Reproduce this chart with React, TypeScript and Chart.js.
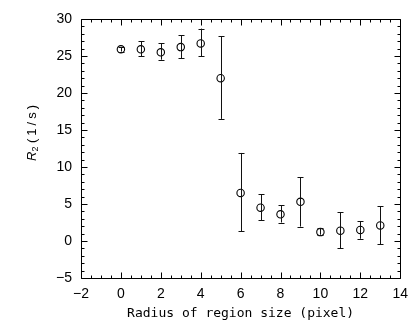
import React, { useEffect, useRef } from "react";
import { Chart, registerables } from "chart.js";

Chart.register(...registerables);

const radius = [0, 1, 2, 3, 4, 5, 6, 7, 8, 9, 10, 11, 12, 13];
const r2Mean = [25.9, 25.9, 25.5, 26.2, 26.7, 22.0, 6.5, 4.5, 3.6, 5.3, 1.2, 1.4, 1.5, 2.1];
const r2Upper = [26.2, 27.0, 26.7, 27.8, 28.7, 27.7, 11.9, 6.3, 4.8, 8.6, 1.75, 3.9, 2.7, 4.7];
const r2Lower = [25.6, 25.0, 24.5, 24.7, 24.95, 16.5, 1.35, 2.8, 2.5, 1.95, 0.85, -1.0, 0.3, -0.45];

const xMin = -2;
const xMax = 14;
const xStep = 2;
const xMinorStep = 0.5;
const yMin = -5;
const yMax = 30;
const yStep = 5;
const yMinorStep = 1;

const xTitle = "Radius of region size (pixel)";
const yTitleMain = "R";
const yTitleSub = "2";
const yTitleRest = " (1/s)";

const minusFmt = (v: number | string) => String(v).replace("-", "\u2212");

const framePlugin = {
  id: "frameTicks",
  afterDatasetsDraw(chart: any) {
    const { ctx, chartArea } = chart;
    const xs = chart.scales.x;
    const ys = chart.scales.y;
    const { left, right, top, bottom } = chartArea;
    ctx.save();
    ctx.strokeStyle = "#000";
    ctx.lineWidth = 1;
    // error bars
    ctx.strokeStyle = "#111";
    for (let i = 0; i < radius.length; i++) {
      const px = Math.round(xs.getPixelForValue(radius[i])) + 0.5;
      const pu = ys.getPixelForValue(r2Upper[i]);
      const pl = ys.getPixelForValue(r2Lower[i]);
      ctx.beginPath();
      ctx.moveTo(px, pu);
      ctx.lineTo(px, pl);
      ctx.moveTo(px - 3, Math.round(pu) + 0.5);
      ctx.lineTo(px + 3, Math.round(pu) + 0.5);
      ctx.moveTo(px - 3, Math.round(pl) + 0.5);
      ctx.lineTo(px + 3, Math.round(pl) + 0.5);
      ctx.stroke();
    }
    ctx.strokeStyle = "#000";
    // frame
    const l = Math.round(left) + 0.5;
    const r = Math.round(right) + 0.5;
    const t = Math.round(top) + 0.5;
    const b = Math.round(bottom) + 0.5;
    ctx.beginPath();
    ctx.rect(l, t, r - l, b - t);
    ctx.stroke();
    ctx.beginPath();
    for (let v = xMin; v <= xMax + 1e-9; v += xMinorStep) {
      const major = Math.abs(v / xStep - Math.round(v / xStep)) < 1e-6;
      const len = major ? 6 : 3;
      const px = Math.round(xs.getPixelForValue(v)) + 0.5;
      ctx.moveTo(px, b);
      ctx.lineTo(px, b - len);
      ctx.moveTo(px, t);
      ctx.lineTo(px, t + len);
    }
    for (let v = yMin; v <= yMax + 1e-9; v += yMinorStep) {
      const major = Math.abs(v / yStep - Math.round(v / yStep)) < 1e-6;
      const len = major ? 6 : 3;
      const py = Math.round(ys.getPixelForValue(v)) + 0.5;
      ctx.moveTo(l, py);
      ctx.lineTo(l + len, py);
      ctx.moveTo(r, py);
      ctx.lineTo(r - len, py);
    }
    ctx.stroke();

    // y title
    ctx.fillStyle = "#000";
    ctx.translate(36, 133);
    ctx.rotate(-Math.PI / 2);
    ctx.textBaseline = "alphabetic";
    ctx.font = "italic 13px 'Liberation Sans'";
    const wR = ctx.measureText(yTitleMain).width;
    ctx.font = "9px 'Liberation Sans'";
    const wS = ctx.measureText(yTitleSub).width;
    ctx.font = "13px 'Liberation Sans'";
    const wRest = ctx.measureText(yTitleRest).width + 3 * 4;
    const total = wR + wS + wRest;
    let cx = -total / 2;
    ctx.textAlign = "left";
    ctx.font = "italic 13px 'Liberation Sans'";
    ctx.fillText(yTitleMain, cx, 0);
    cx += wR;
    ctx.font = "9px 'Liberation Sans'";
    ctx.fillText(yTitleSub, cx, 2);
    cx += wS;
    ctx.font = "13px 'Liberation Sans'";
    for (const ch of yTitleRest) {
      ctx.fillText(ch, cx, 0);
      cx += ctx.measureText(ch).width + (ch === " " ? 0 : 3);
    }
    ctx.restore();
  },
};

export default function App() {
  const ref = useRef<HTMLCanvasElement | null>(null);
  useEffect(() => {
    if (!ref.current) return;
    const chart = new Chart(ref.current, {
      type: "scatter",
      data: {
        datasets: [
          {
            data: radius.map((x, i) => ({ x, y: r2Mean[i] })),
            pointStyle: "circle",
            pointRadius: 3.7,
            borderColor: "#000",
            backgroundColor: "rgba(0,0,0,0)",
            borderWidth: 1.1,
          },
        ],
      },
      options: {
        animation: false,
        responsive: false,
        maintainAspectRatio: false,
        layout: { padding: { top: 19, right: 12, left: 0, bottom: 0 } },
        plugins: { legend: { display: false }, tooltip: { enabled: false } },
        scales: {
          x: {
            type: "linear",
            min: xMin,
            max: xMax,
            grid: { display: false, drawTicks: false },
            border: { display: false },
            ticks: {
              stepSize: xStep,
              color: "#000",
              padding: 8,
              font: { family: "'Liberation Sans', Arial, sans-serif", size: 14 },
              callback: (v: any) => minusFmt(v),
              maxRotation: 0,
            },
            title: {
              display: true,
              text: xTitle,
              color: "#000",
              font: { family: "'DejaVu Sans Mono', monospace", size: 13 },
              padding: { top: 0, bottom: 0 },
            },
            afterFit: (s: any) => {
              s.height = 43;
            },
          },
          y: {
            type: "linear",
            min: yMin,
            max: yMax,
            grid: { display: false, drawTicks: false },
            border: { display: false },
            ticks: {
              stepSize: yStep,
              color: "#000",
              padding: 9,
              font: { family: "'Liberation Sans', Arial, sans-serif", size: 14 },
              callback: (v: any) => minusFmt(v),
            },
            afterFit: (s: any) => {
              s.width = 81;
            },
          },
        },
      },
      plugins: [framePlugin],
    });
    return () => chart.destroy();
  }, []);
  return (
    <div style={{ position: "fixed", left: 0, top: 0, width: 416, height: 321, background: "#fff" }}>
      <canvas ref={ref} width={416} height={321} style={{ width: 416, height: 321 }} />
    </div>
  );
}
